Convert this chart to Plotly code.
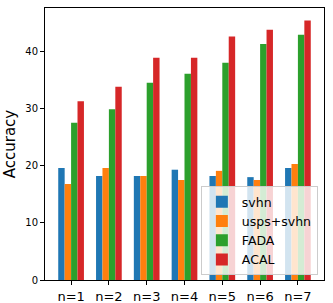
import plotly.graph_objects as go

categories = ["n=1", "n=2", "n=3", "n=4", "n=5", "n=6", "n=7"]
svhn = [19.6, 18.2, 18.2, 19.3, 18.2, 18.0, 19.6]
usps_svhn = [16.8, 19.6, 18.2, 17.5, 19.1, 17.5, 20.3]
fada = [27.5, 29.9, 34.5, 36.1, 38.0, 41.3, 42.9]
acal = [31.3, 33.8, 38.9, 38.9, 42.6, 43.8, 45.4]
yticks = [0, 10, 20, 30, 40]

series = [("svhn", svhn, "#1f77b4"), ("usps+svhn", usps_svhn, "#ff7f0e"),
          ("FADA", fada, "#2ca02c"), ("ACAL", acal, "#d62728")]

fig = go.Figure()
xs = list(range(len(categories)))
for name, vals, col in series:
    fig.add_trace(go.Bar(x=xs, y=vals, name=name, marker=dict(color=col, line=dict(width=0))))

fig.update_layout(
    width=333, height=303,
    margin=dict(l=45, r=9, t=8, b=23, autoexpand=False),
    barmode="group", bargap=0.32, bargroupgap=0,
    plot_bgcolor="white", paper_bgcolor="white",
    font=dict(family="DejaVu Sans", color="black"),
    showlegend=True,
    legend=dict(x=0.978, y=0.018, xanchor="right", yanchor="bottom",
                bgcolor="rgba(255,255,255,0.8)", bordercolor="#cccccc", borderwidth=1,
                font=dict(size=12.5), tracegroupgap=0),
    xaxis=dict(range=[-0.69, 6.69], tickvals=xs, ticktext=categories, automargin=False,
               showline=True, mirror=True, linecolor="black", linewidth=1,
               ticks="outside", ticklen=4, tickcolor="black", tickfont=dict(size=13),
               showgrid=False, zeroline=False),
    yaxis=dict(range=[0, 47.6], tickvals=yticks, automargin=False,
               showline=True, mirror=True, linecolor="black", linewidth=1,
               ticks="outside", ticklen=4, tickcolor="black", tickfont=dict(size=10),
               showgrid=False, zeroline=False,
               title=dict(text="Accuracy", font=dict(size=15), standoff=6)),
)

fig.write_html("out.html", config={"displayModeBar": False},
               post_script="document.body.style.margin='0';document.body.style.overflow='hidden';")
